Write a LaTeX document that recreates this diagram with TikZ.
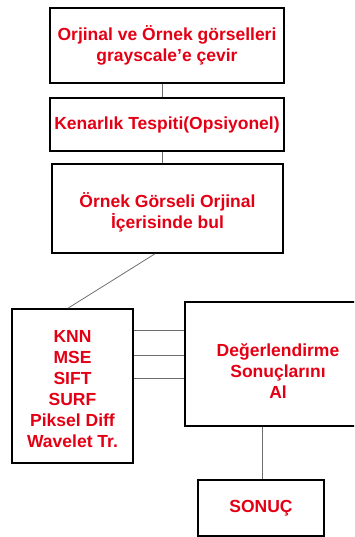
\documentclass[tikz,border=0pt]{standalone}
\usepackage{fontspec}
\setmainfont{Liberation Sans}
\definecolor{txtred}{RGB}{228,0,20}
\definecolor{linegray}{RGB}{110,110,110}
\begin{document}
\begin{tikzpicture}[x=1pt,y=1pt,
  lbl/.style={text=txtred, font=\fontsize{17.5}{21}\selectfont\bfseries, align=center, inner sep=0pt},
  box/.style={draw=black, line width=1.6pt, inner sep=0pt, align=center,
    text=txtred, font=\fontsize{17.5}{21.5}\selectfont\bfseries},
  conn/.style={draw=linegray, line width=0.8pt}]
\useasboundingbox (0,0) rectangle (354,-537);
\clip (0,0) rectangle (354,-537);
\node[box, minimum width=234, minimum height=75] (b1) at (167,-45.5)
  {Orjinal ve Örnek görselleri\\grayscale’e çevir};
\node[box, minimum width=234, minimum height=53] (b2) at (167,-124.5)
  {Kenarlık Tespiti(Opsiyonel)};
\node[box, minimum width=231, minimum height=89] (b3) at (167.5,-208.5) {};
\node[lbl] (t3) at (167.5,-212) {Örnek Görseli Orjinal\\İçerisinde bul};
\node[box, minimum width=121, minimum height=154] (b4) at (72.5,-386) {};
\node[lbl] (t4) at (72.5,-389) {KNN\\MSE\\SIFT\\SURF\\Piksel Diff\\Wavelet Tr.};
\node[box, minimum width=186, minimum height=124] (b5) at (278,-364) {};
\node[lbl] (t5) at (278,-371) {Değerlendirme\\Sonuçlarını\\Al};
\node[box, minimum width=126, minimum height=56] (b6) at (261,-508) {SONUÇ};
\draw[conn] ([xshift=-5]b1.south) -- ([xshift=-5]b1.south |- b2.north);
\draw[conn] ([xshift=-5]b2.south) -- ([xshift=-5]b2.south |- b3.north);
\draw[conn] ([xshift=-12.5]b3.south) -- ([xshift=-4.5]b4.north);
\draw[conn] ([yshift=-22]b4.north east) -- ([yshift=-22]b4.north east -| b5.west);
\draw[conn] ([yshift=-47]b4.north east) -- ([yshift=-47]b4.north east -| b5.west);
\draw[conn] ([yshift=-70]b4.north east) -- ([yshift=-70]b4.north east -| b5.west);
\draw[conn] ([xshift=1]b6.north |- b5.south) -- ([xshift=1]b6.north);
\end{tikzpicture}
\end{document}
